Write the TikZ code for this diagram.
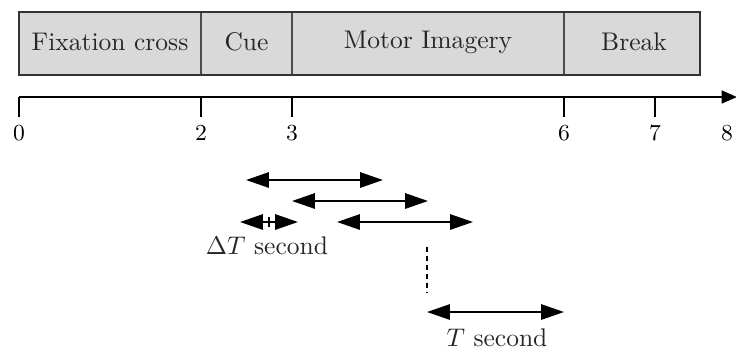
\documentclass[tikz,border=0pt]{standalone}
\usetikzlibrary{arrows.meta}
\definecolor{boxgray}{HTML}{D9D9D9}
\begin{document}
\begin{tikzpicture}[x=0.392pt,y=-0.392pt,
  seg/.style={draw=black!70,line width=0.45pt},
  axisline/.style={line width=0.8pt,-{Triangle[length=6pt,width=5pt]}},
  tickline/.style={line width=0.8pt},
  ticklabel/.style={font=\small,inner sep=0pt},
  span/.style={line width=0.8pt,{Triangle[length=9pt,width=6pt]}-{Triangle[length=9pt,width=6pt]}},
  half/.style={line width=0.8pt,-{Triangle[length=9pt,width=6pt]}},
  lbl/.style={inner sep=0pt,text=black!85}]
\useasboundingbox (0,0) rectangle (736,351);
% phase box
\fill[boxgray] (19,12) rectangle (700,75);
\draw[seg] (201,12) -- (201,75);
\draw[seg] (292,12) -- (292,75);
\draw[seg] (564,12) -- (564,75);
\draw[line width=0.8pt,black!80] (19,12) rectangle (700,75);
\node[lbl] (fix) at (110,42) {Fixation cross};
\node[lbl] (cue) at (246.5,42) {Cue};
\node[lbl] (mi) at (428,42) {Motor Imagery};
\node[lbl] (brk) at (634,42) {Break};
% axis
\coordinate (a0) at (19,97);
\coordinate (aend) at (737,97);
\draw[axisline] (a0) -- (aend);
\foreach \x/\n in {19/0,201/2,292/3,564/6,655/7}{
  \draw[tickline] (\x,97) -- (\x,117);
  \node[ticklabel] (t\n) at (\x,133) {\n};
}
\node[ticklabel] (t8) at (727,133) {8};
% windows
\coordinate (w1a) at (246,180); \coordinate (w1b) at (383,180);
\coordinate (w2a) at (292,201); \coordinate (w2b) at (428,201);
\coordinate (w3a) at (337,222); \coordinate (w3b) at (473,222);
\draw[span] (w1a) -- (w1b);
\draw[span] (w2a) -- (w2b);
\draw[span] (w3a) -- (w3b);
% delta T
\coordinate (dm) at (269,222);
\coordinate (dl) at (240,222);
\coordinate (dr) at (298,222);
\draw[half] (dm) -- (dl);
\draw[half] (dm) -- (dr);
\draw[line width=0.4pt] (269,217) -- (269,227);
\node[lbl] (dt) at (267,246) {$\Delta T$ second};
% dashed
\coordinate (ds) at (427,247);
\coordinate (de) at (427,292);
\draw[line width=0.4pt,dash pattern=on 2pt off 1.5pt] (ds) -- (de);
% T window
\coordinate (ta) at (427,312); \coordinate (tb) at (564,312);
\draw[span] (ta) -- (tb);
\node[lbl] (ts) at (497,338) {$T$ second};
\end{tikzpicture}
\end{document}
